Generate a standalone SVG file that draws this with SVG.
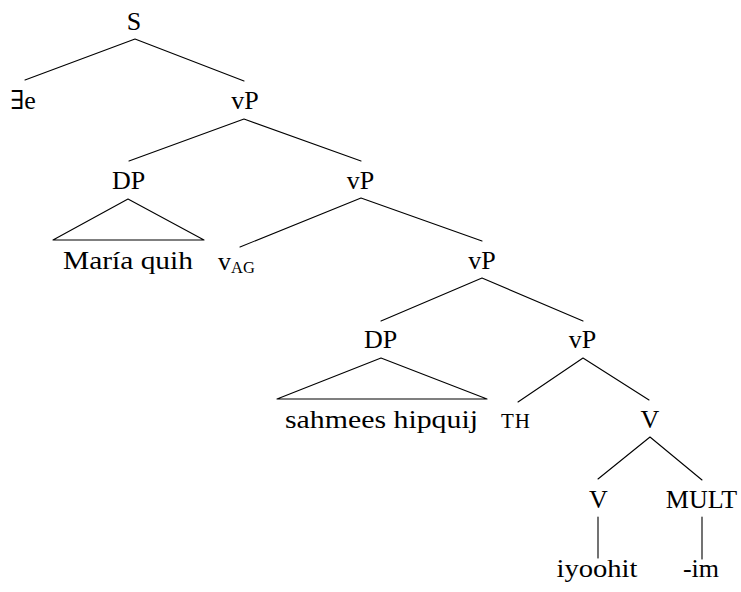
<svg xmlns="http://www.w3.org/2000/svg" width="741" height="592" viewBox="0 0 741 592">
  <style>
    .lbl { font-family: 'Liberation Serif', 'DejaVu Serif', 'Times New Roman', serif; font-size: 26px; fill: #000; text-anchor: middle; }
    .sc { font-size: 21px; letter-spacing: 1px; }
    .sub { font-size: 16.5px; }
    .edge { stroke: #000; stroke-width: 1.1; fill: none; stroke-linecap: round; stroke-linejoin: round; }
  </style>
  <rect width="741" height="592" fill="#fff"/>

  <!-- connectors -->
  <g id="connectors">
    <path class="edge" d="M135,39 L25,80 M135,39 L244,81"/>
    <path class="edge" d="M244,119 L129,161 M244,119 L361,161"/>
    <path class="edge" d="M128,199 L53,240 L204,240 Z"/>
    <path class="edge" d="M361,198 L240,247 M361,198 L482,241"/>
    <path class="edge" d="M482,278 L381,321 M482,278 L583,321"/>
    <path class="edge" d="M381,358 L277,399 L487,399 Z"/>
    <path class="edge" d="M583,358 L518,402 M583,358 L649,400"/>
    <path class="edge" d="M650,437 L598,479 M650,437 L702,480"/>
    <path class="edge" d="M598,517 L598,558 M702,517 L702,559"/>
  </g>

  <!-- nodes -->
  <g id="n-S"><text class="lbl" x="134" y="30">S</text></g>
  <g id="n-exists"><text class="lbl" x="23" y="109">∃e</text></g>
  <g id="n-vP1"><text class="lbl" x="245" y="109">vP</text></g>
  <g id="n-DP1"><text class="lbl" x="128.5" y="189">DP</text></g>
  <g id="n-vP2"><text class="lbl" x="360.5" y="189">vP</text></g>
  <g id="n-maria"><text class="lbl" x="128" y="269" textLength="130" lengthAdjust="spacingAndGlyphs">María quih</text></g>
  <g id="n-vAG"><text class="lbl" x="218" y="270" style="text-anchor:start">v<tspan class="sub" dy="2.7">AG</tspan></text></g>
  <g id="n-vP3"><text class="lbl" x="482" y="269">vP</text></g>
  <g id="n-DP2"><text class="lbl" x="380.5" y="348">DP</text></g>
  <g id="n-vP4"><text class="lbl" x="582.5" y="348">vP</text></g>
  <g id="n-sahmees"><text class="lbl" x="381.5" y="428" textLength="193" lengthAdjust="spacingAndGlyphs">sahmees hipquij</text></g>
  <g id="n-TH"><text class="lbl sc" x="516" y="428">TH</text></g>
  <g id="n-V1"><text class="lbl" x="650" y="428">V</text></g>
  <g id="n-V2"><text class="lbl" x="598.5" y="508">V</text></g>
  <g id="n-MULT"><text class="lbl" x="701.5" y="508">MULT</text></g>
  <g id="n-iyoohit"><text class="lbl" x="597" y="577" textLength="81" lengthAdjust="spacingAndGlyphs">iyoohit</text></g>
  <g id="n-im"><text class="lbl" x="701" y="577">-im</text></g>
</svg>
